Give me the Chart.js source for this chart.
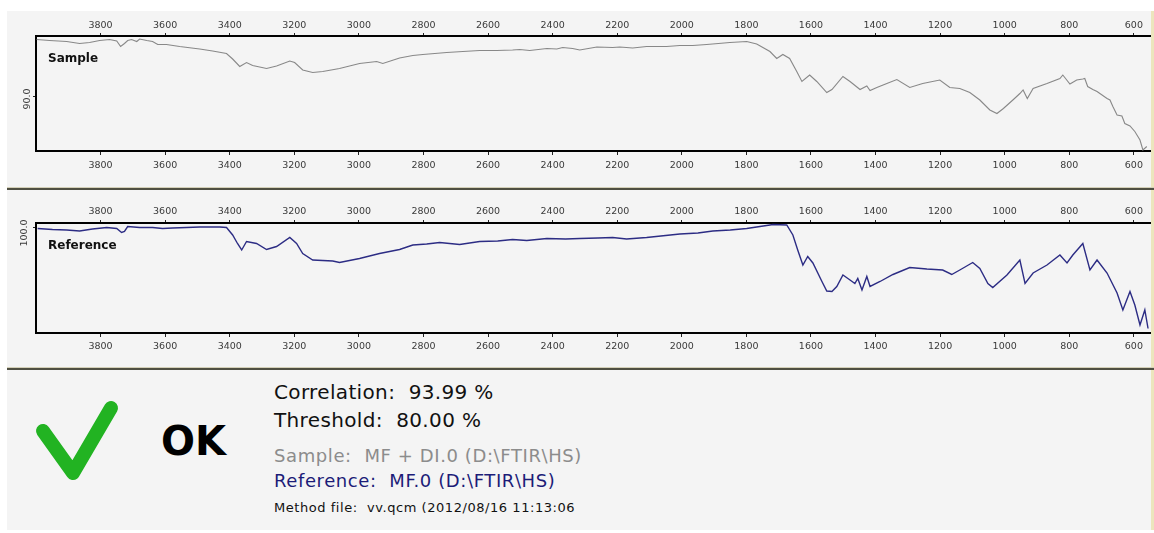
<!DOCTYPE html>
<html>
<head>
<meta charset="utf-8">
<title>QC compare</title>
<script src="https://cdn.jsdelivr.net/npm/chart.js"></script>
<style>
  body { margin: 0; background: #fff; width: 1154px; height: 533px; position: relative; overflow: hidden;
         font-family: "DejaVu Sans", Verdana, sans-serif; }
  .panel { position: absolute; left: 7px; width: 1144px; background: #f4f4f4; border-right: 3px solid #ece5bd; }
  #p1 { top: 11px; height: 176px; }
  #p2 { top: 190px; height: 177px; }
  #p3 { top: 370px; height: 160px; }
  .sep { position: absolute; left: 7px; width: 1147px; height: 2px; background: #4f4f42; border-top: 1px solid #d4d0b8; }
  canvas { position: absolute; left: 7px; }
  #c1 { top: 11px; }
  #c2 { top: 191px; }
  .txt { position: absolute; left: 274px; line-height: 1; white-space: pre; }
</style>
</head>
<body>
<div class="panel" id="p1"></div>
<div class="sep" style="top:187px"></div>
<div class="panel" id="p2"></div>
<div class="sep" style="top:367px"></div>
<div class="panel" id="p3"></div>

<canvas id="c1" width="1144" height="177"></canvas>
<canvas id="c2" width="1144" height="176"></canvas>

<svg style="position:absolute;left:0;top:370px" width="150" height="150">
  <polyline points="43,61 73,103 111,38" fill="none" stroke="#22b322" stroke-width="14"
            stroke-linecap="round" stroke-linejoin="round"/>
</svg>
<div class="txt" style="left:161px;top:421px;font-size:40px;font-weight:bold;color:#000">OK</div>
<div class="txt" style="top:382px;font-size:20px;letter-spacing:0.35px;color:#111">Correlation:  93.99 %</div>
<div class="txt" style="top:410px;font-size:20px;letter-spacing:0.35px;color:#111">Threshold:  80.00 %</div>
<div class="txt" style="top:447px;font-size:18px;letter-spacing:0.6px;color:#8c8c8c">Sample:  MF + DI.0 (D:\FTIR\HS)</div>
<div class="txt" style="top:472px;font-size:18px;letter-spacing:0.6px;color:#1c1c78">Reference:  MF.0 (D:\FTIR\HS)</div>
<div class="txt" style="top:501px;font-size:13px;letter-spacing:0.55px;color:#111">Method file:  vv.qcm (2012/08/16 11:13:06</div>

<script>
// wavenumber tick positions shared by all four x axes
const xTickValues = [3800, 3600, 3400, 3200, 3000, 2800, 2600, 2400, 2200, 2000, 1800, 1600, 1400, 1200, 1000, 800, 600];

// sample spectrum (cm-1, %T)
const sampleWavenumbers = [3998, 3958, 3905, 3865, 3834, 3803, 3772, 3750, 3738, 3726, 3716, 3704, 3688, 3679, 3657, 3639,
  3623, 3596, 3555, 3493, 3453, 3410, 3391, 3369, 3348, 3329, 3286, 3255, 3214, 3199, 3174, 3143, 3112, 3060, 2998, 2945,
  2926, 2874, 2833, 2802, 2728, 2678, 2626, 2573, 2524, 2502, 2471, 2418, 2387, 2369, 2338, 2316, 2263, 2214, 2192, 2152,
  2109, 2047, 2006, 1966, 1923, 1851, 1799, 1768, 1727, 1706, 1687,
  1666, 1644, 1628, 1604, 1582, 1551, 1535, 1501, 1479, 1448, 1427, 1417, 1396, 1365, 1334, 1294, 1254, 1201, 1170, 1139,
  1108, 1077, 1046, 1024, 1004, 973, 953, 943, 930, 912, 869, 829, 820, 798, 777, 758, 752, 743, 727, 714, 683, 674, 665,
  652, 637, 628, 612, 597, 581, 572, 560];
const sampleValues = [101.3, 101.1, 100.9, 100.5, 100.7, 101.1, 101.3, 101.0, 99.9, 100.5, 101.1, 101.3, 100.9, 101.4, 101.1, 100.9,
  100.3, 100.3, 99.9, 99.4, 99.0, 98.5, 97.4, 95.9, 96.7, 96.1, 95.5, 96.0, 97.0, 96.7, 95.2, 94.7, 94.9, 95.5, 96.5, 96.9,
  96.5, 97.6, 98.1, 98.3, 98.7, 98.9, 99.1, 99.1, 99.2, 99.3, 99.1, 99.5, 99.4, 99.7, 99.5, 99.2, 99.8, 99.7, 99.8, 99.6,
  99.9, 99.9, 100.1, 100.1, 100.3, 100.7, 100.9, 100.4, 98.9, 97.5, 98.3,
  97.5, 94.9, 92.9, 94.2, 92.9, 90.7, 91.3, 93.9, 92.9, 91.3, 92.0, 91.1, 91.7, 92.5, 93.3, 91.7, 92.5, 93.2, 91.7, 91.5,
  90.7, 89.2, 87.2, 86.5, 87.5, 89.3, 90.5, 91.2, 89.5, 91.5, 92.5, 93.5, 94.2, 92.4, 93.2, 93.4, 93.5, 91.9, 91.3, 90.9, 89.5, 89.2, 87.9,
  86.2, 86.0, 84.5, 84.0, 82.9, 81.2, 79.2, 79.9];

// reference spectrum (cm-1, %T)
const referenceWavenumbers = [3995, 3949, 3905, 3865, 3825, 3781, 3750, 3735, 3726, 3716, 3679, 3639, 3608, 3577, 3534, 3493,
  3431, 3410, 3391, 3376, 3363, 3348, 3317, 3286, 3255, 3214, 3193, 3174, 3143, 3081, 3060, 2998, 2936, 2874, 2833, 2790, 2750,
  2688, 2626, 2570, 2524, 2480, 2418, 2360, 2316, 2260, 2214, 2171, 2109, 2006, 1950, 1904, 1850, 1799, 1758, 1727, 1718, 1675, 1656, 1641, 1625, 1610,
  1594, 1566, 1551, 1535, 1520, 1501, 1479, 1464, 1455, 1442, 1427, 1417, 1386, 1346, 1294, 1241, 1192, 1164, 1139, 1099,
  1077, 1052, 1037, 993, 953, 937, 912, 869, 829, 807, 789, 758, 736, 714, 683, 652, 634, 612, 597, 581, 566, 556];
const referenceValues = [99.9, 99.7, 99.6, 99.4, 99.8, 100.1, 99.9, 99.1, 99.3, 100.3, 100.1, 100.1, 99.9, 100.0, 100.1, 100.2,
  100.2, 100.1, 98.6, 96.9, 95.6, 97.3, 96.9, 95.7, 96.3, 98.1, 96.9, 94.9, 93.6, 93.4, 93.1, 93.9, 94.9, 95.7, 96.6, 96.8, 97.1,
  96.7, 97.3, 97.4, 97.7, 97.5, 97.9, 97.8, 97.9, 98.0, 98.1, 97.8, 98.1, 98.8, 99.0, 99.4, 99.6, 99.9, 100.3, 100.6, 100.7, 100.6, 98.6, 95.6, 92.6, 94.3,
  93.0, 89.3, 87.4, 87.3, 88.3, 90.6, 89.6, 88.9, 89.9, 87.6, 90.3, 88.3, 89.3, 90.7, 92.1, 91.8, 91.6, 90.7, 91.6, 93.1,
  91.9, 88.9, 88.1, 90.6, 93.6, 88.9, 91.0, 92.6, 94.6, 93.0, 94.6, 96.9, 91.6, 93.6, 91.0, 87.0, 83.6, 87.3, 84.6, 80.6, 83.6, 79.9];

// labelled y ticks for each panel
const sampleYTicks = [90];
const referenceYTicks = [100];

function points(xs, ys) {
  return xs.map((x, i) => ({ x: x, y: ys[i] }));
}

const tickFont = { family: "DejaVu Sans", size: 9.5 };

function xAxis(position, tickLen, pad, height) {
  return {
    type: "linear",
    axis: "x",
    position: position,
    reverse: true,
    min: 550,
    max: 4000,
    afterBuildTicks: (scale) => { scale.ticks = xTickValues.map(v => ({ value: v })); },
    afterFit: (scale) => { scale.height = height; },
    grid: { drawOnChartArea: false, drawTicks: true, tickLength: tickLen, color: "#222" },
    border: { display: true, color: "#000", width: 2 },
    ticks: { font: tickFont, color: "#3a3a3a", padding: pad, maxRotation: 0, autoSkip: false, callback: v => String(v) }
  };
}

function yAxis(min, max, tickValues, offset) {
  return {
    type: "linear",
    position: "left",
    min: min,
    max: max,
    afterBuildTicks: (scale) => { scale.ticks = tickValues.map(v => ({ value: v })); },
    afterFit: (scale) => { scale.width = 29; },
    grid: { drawOnChartArea: false, drawTicks: true, tickLength: 3, color: "#222" },
    border: { display: true, color: "#000", width: 2 },
    ticks: { font: tickFont, color: "#3a3a3a", minRotation: 90, maxRotation: 90, crossAlign: "center",
             padding: -5, labelOffset: offset, callback: v => v.toFixed(1) }
  };
}

// panel caption in the upper left of the plot area
const panelLabel = {
  id: "panelLabel",
  afterDraw(chart, args, opts) {
    const ctx = chart.ctx;
    const area = chart.chartArea;
    ctx.save();
    ctx.font = "bold 12px 'DejaVu Sans'";
    ctx.fillStyle = "#111";
    ctx.fillText(opts.text, area.left + 12, area.top + 26);
    ctx.restore();
  }
};

function spectrumChart(id, label, data, color, width, yMin, yMax, yTicks, yOffset, topAxis, bottomAxis) {
  return new Chart(document.getElementById(id), {
    type: "line",
    data: {
      datasets: [{
        label: label,
        data: data,
        borderColor: color,
        borderWidth: width,
        pointRadius: 0,
        fill: false,
        tension: 0,
        xAxisID: "x",
        yAxisID: "y"
      }]
    },
    options: {
      responsive: false,
      animation: false,
      layout: { padding: { left: 0, right: 1, top: 0, bottom: 0 } },
      scales: {
        xTop: xAxis("top", topAxis[0], topAxis[1], topAxis[2]),
        x: xAxis("bottom", bottomAxis[0], bottomAxis[1], bottomAxis[2]),
        y: yAxis(yMin, yMax, yTicks, yOffset)
      },
      plugins: {
        legend: { display: false },
        tooltip: { enabled: false },
        panelLabel: { text: label }
      }
    },
    plugins: [panelLabel]
  });
}

spectrumChart("c1", "Sample", points(sampleWavenumbers, sampleValues), "#888888", 1.1,
  79, 102, sampleYTicks, 3, [3, 2, 25], [4, 5, 37]);
spectrumChart("c2", "Reference", points(referenceWavenumbers, referenceValues), "#2c2c84", 1.4,
  79, 101, referenceYTicks, 5, [3, 3, 32], [4, 4, 34]);
</script>
</body>
</html>
